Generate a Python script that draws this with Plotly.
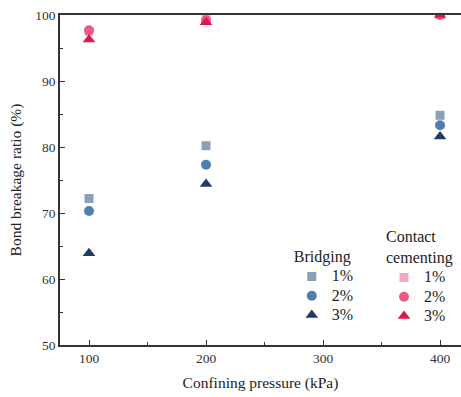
import plotly.graph_objects as go

# Confining pressure (kPa)
pressure = [100, 200, 400]

# Bond breakage ratio (%) for bridging bonds
bridging_1 = [72.2, 80.2, 84.8]
bridging_2 = [70.3, 77.3, 83.3]
bridging_3 = [63.9, 74.4, 81.6]

# Bond breakage ratio (%) for contact cementing bonds
contact_1 = [97.5, 99.5, 100.0]
contact_2 = [97.7, 99.2, 100.0]
contact_3 = [96.3, 98.9, 100.0]

labels = ["1%", "2%", "3%"]

FONT = "Liberation Serif, Times New Roman, serif"

fig = go.Figure()

bridging_style = [
    ("square", "#8aa0b9", 9),
    ("circle", "#4f7fae", 10),
    ("triangle-up", "#1d3a6b", 11),
]
contact_style = [
    ("square", "#f2a9ba", 9),
    ("circle", "#e85a82", 10),
    ("triangle-up", "#d8194a", 11),
]


def entry(text):
    # larger glyphs than the legend font so the rows stay tightly packed
    return f"<span style='font-size:16px'>{text}</span>"


for vals, lab, (sym, col, sz) in zip([bridging_1, bridging_2, bridging_3], labels, bridging_style):
    fig.add_trace(go.Scatter(
        x=pressure, y=vals, mode="markers", name=entry(lab), legend="legend",
        marker=dict(symbol=sym, color=col, size=sz, line=dict(width=0)),
    ))

for vals, lab, (sym, col, sz) in zip([contact_1, contact_2, contact_3], labels, contact_style):
    fig.add_trace(go.Scatter(
        x=pressure, y=vals, mode="markers", name=entry(lab), legend="legend2",
        marker=dict(symbol=sym, color=col, size=sz, line=dict(width=0)),
    ))

axis_common = dict(
    showgrid=False, zeroline=False, showline=True, linecolor="#333333", linewidth=1.5,
    ticks="inside", ticklen=5, tickwidth=1.2, tickcolor="#333333",
    tickfont=dict(family=FONT, size=13.5, color="#333333"),
)

fig.update_xaxes(
    range=[75.2, 417.9], tickvals=[100, 200, 300, 400], mirror=True,
    minor=dict(tickvals=[150, 250, 350], ticks="inside", ticklen=3, tickcolor="#333333"),
    title=dict(text="Confining pressure (kPa)", font=dict(family=FONT, size=15.5, color="#222222"), standoff=12),
    **axis_common,
)
fig.update_yaxes(
    range=[50, 100], tickvals=[50, 60, 70, 80, 90, 100],
    minor=dict(tickvals=[55, 65, 75, 85, 95], ticks="inside", ticklen=3, tickcolor="#333333"),
    title=dict(text="Bond breakage ratio (%)", font=dict(family=FONT, size=15.5, color="#222222"), standoff=10),
    **axis_common,
)

title_font = dict(family=FONT, size=16, color="#222222")
legend_common = dict(
    font=dict(family=FONT, size=12.5, color="#222222"),
    bgcolor="rgba(0,0,0,0)", tracegroupgap=0, itemwidth=30,
    xanchor="left", yanchor="top",
)

fig.update_layout(
    width=461, height=397,
    margin=dict(l=60, r=0, t=15, b=52),
    paper_bgcolor="white", plot_bgcolor="white",
    legend=dict(x=0.578, y=0.315, title=dict(text="Bridging", font=title_font), **legend_common),
    legend2=dict(x=0.808, y=0.375, title=dict(text="Contact<br>cementing", font=title_font), **legend_common),
)

fig.write_html("out.html")
